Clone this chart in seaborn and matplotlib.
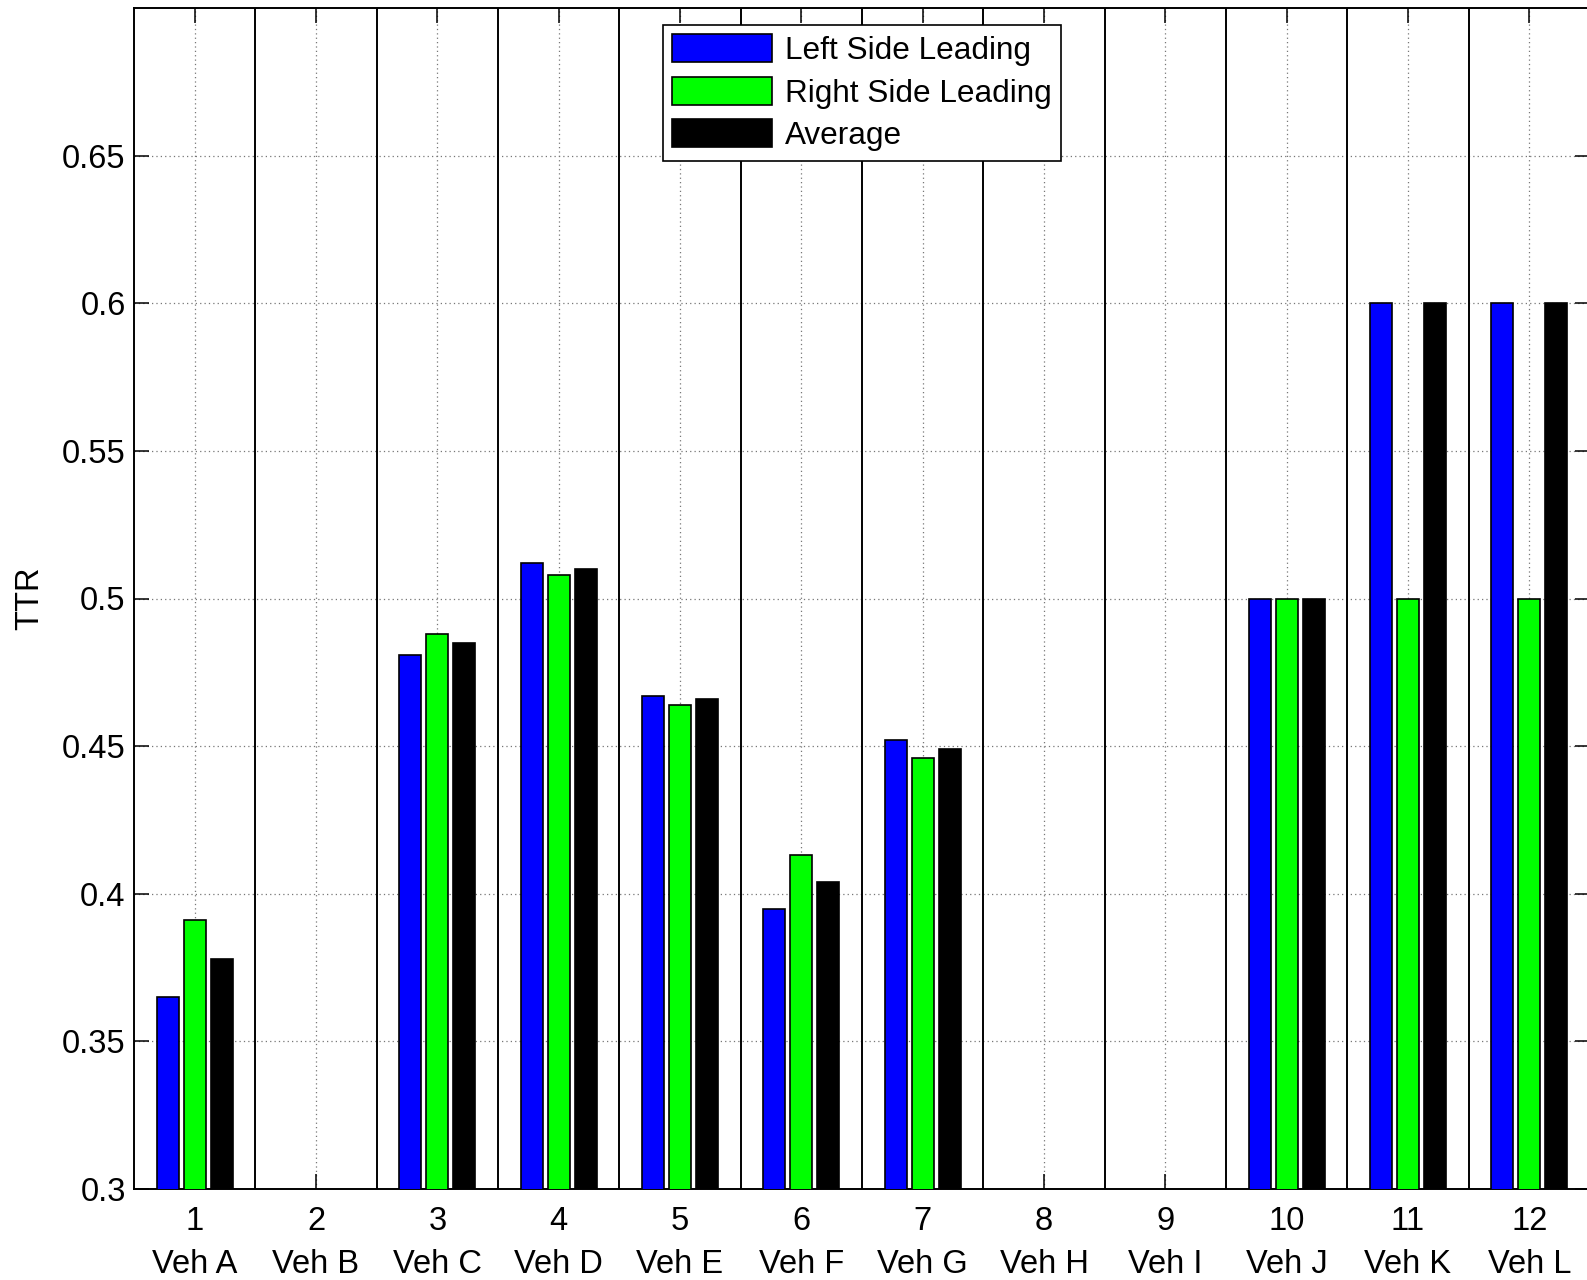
import numpy as np
import pandas as pd
import matplotlib
matplotlib.use("Agg")
import matplotlib.pyplot as plt
import seaborn as sns

# ---- data ----
numbers = ["1", "2", "3", "4", "5", "6", "7", "8", "9", "10", "11", "12"]
vehicles = ["Veh A", "Veh B", "Veh C", "Veh D", "Veh E", "Veh F",
            "Veh G", "Veh H", "Veh I", "Veh J", "Veh K", "Veh L"]
left_side = [0.365, np.nan, 0.481, 0.512, 0.467, 0.395, 0.452, np.nan, np.nan, 0.500, 0.600, 0.600]
right_side = [0.391, np.nan, 0.488, 0.508, 0.464, 0.413, 0.446, np.nan, np.nan, 0.500, 0.500, 0.500]
average = [0.378, np.nan, 0.485, 0.510, 0.466, 0.404, 0.449, np.nan, np.nan, 0.500, 0.600, 0.600]
series_names = ["Left Side Leading", "Right Side Leading", "Average"]
series_colors = ["#0000FF", "#00FF00", "#000000"]
yticks = [0.3, 0.35, 0.4, 0.45, 0.5, 0.55, 0.6, 0.65]

df = pd.DataFrame({
    "veh": vehicles * 3,
    "series": [series_names[0]] * 12 + [series_names[1]] * 12 + [series_names[2]] * 12,
    "TTR": left_side + right_side + average,
})

sns.set_style("white")
plt.rcParams["font.family"] = ["Liberation Sans", "DejaVu Sans"]
plt.rcParams["font.size"] = 23
plt.rcParams["text.color"] = "black"
plt.rcParams["axes.labelcolor"] = "black"
plt.rcParams["xtick.color"] = "black"
plt.rcParams["ytick.color"] = "black"

fig = plt.figure(figsize=(15.87, 12.8), dpi=100)
W, H = 1587, 1280
ax = fig.add_axes([134 / W, (H - 1189) / H, (1590 - 134) / W, (1189 - 8) / H])

sns.barplot(data=df, x="veh", y="TTR", hue="series", order=vehicles,
            hue_order=series_names, palette=series_colors, errorbar=None,
            width=0.667, gap=0.19, edgecolor="black", linewidth=1.2,
            saturation=1, ax=ax, zorder=3)

ax.set_xlim(-0.5, len(vehicles) - 0.5)
ax.set_ylim(0.3, 0.7)

# group separators
for i in range(len(vehicles) - 1):
    ax.axvline(i + 0.5, color="black", lw=1.4, zorder=2)

ax.set_xticks(range(len(vehicles)))
ax.set_xticklabels([f"{n}\n{v}" for n, v in zip(numbers, vehicles)],
                   linespacing=1.5, fontsize=23.5)
ax.set_yticks(yticks)
ax.set_yticklabels([f"{t:g}" for t in yticks], fontsize=23.5)
ax.set_xlabel("")
ax.set_ylabel("TTR", fontsize=23.5, labelpad=12)

ax.grid(True, linestyle=(0, (1, 2.5)), color="#777777", lw=0.9)
ax.set_axisbelow(True)
ax.tick_params(axis="both", direction="in", length=11, width=1.1, top=True,
               right=True, bottom=True, left=True, colors="black")
ax.tick_params(axis="y", pad=6)
ax.tick_params(axis="x", pad=12)
for sp in ax.spines.values():
    sp.set_visible(True)
    sp.set_color("black")
    sp.set_linewidth(1.4)

handles, labels = ax.get_legend_handles_labels()
leg = ax.legend(handles, labels, loc="upper center", bbox_to_anchor=(0.5, 0.986),
                fontsize=22.7, frameon=True, fancybox=False, shadow=False,
                handlelength=3.15, handleheight=1.0, labelspacing=0.34,
                handletextpad=0.42, borderpad=0.3, borderaxespad=0.0)
leg.get_frame().set_edgecolor("black")
leg.get_frame().set_linewidth(1.2)
leg.get_frame().set_alpha(1)

fig.savefig("out.png", dpi=100)
